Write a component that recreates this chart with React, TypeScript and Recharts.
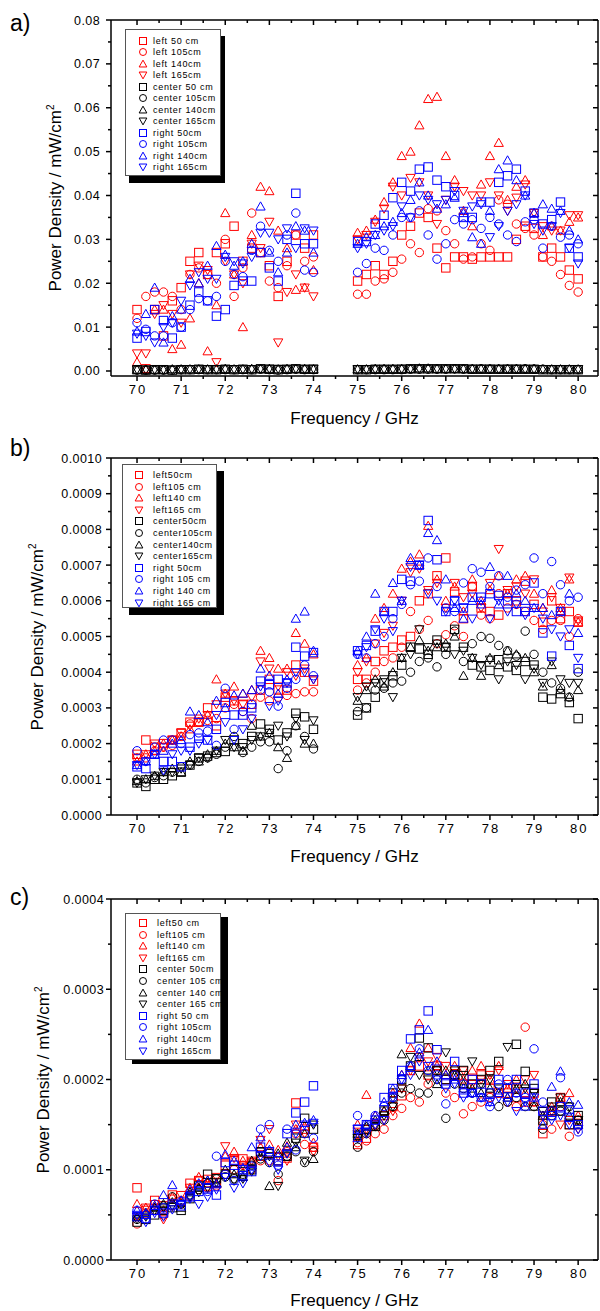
import React from "react"
import { ScatterChart, Scatter, XAxis, YAxis } from "recharts"

const RED = "#ff0000"
const BLACK = "#000000"
const BLUE = "#0000ff"
const FONT = '"Liberation Sans", Arial, sans-serif'

// measurement frequencies, GHz
const FREQ = [
  70.0, 70.2, 70.4, 70.6, 70.8, 71.0, 71.2, 71.4, 71.6, 71.8, 72.0, 72.2, 72.4, 72.6, 72.8, 73.0, 73.2, 73.4, 73.6, 73.8, 74.0,
  75.0, 75.2, 75.4, 75.6, 75.8, 76.0, 76.2, 76.4, 76.6, 76.8, 77.0, 77.2, 77.4, 77.6, 77.8, 78.0, 78.2, 78.4, 78.6, 78.8, 79.0,
  79.2, 79.4, 79.6, 79.8, 80.0,
]

const X_TICKS = [70, 70.5, 71, 71.5, 72, 72.5, 73, 73.5, 74, 74.5, 75, 75.5, 76, 76.5, 77, 77.5, 78, 78.5, 79, 79.5, 80]

// panel a) values in units of 0.001 mW/cm2
const A_LEFT_50 = [14, 0.5, 14, 8, 16, 19, 25, 27, 22, 27, 29, 33, 25, 28, 27, 24, 17, 25, 31, 28, 31, 20.5, 22, 24, 22, 25, 31, 33, 36, 35, 28, 23.5, 26, 26, 25.5, 26, 26, 26, 26, 30, 33, 32.5, 26, 28, 26, 23, 21]
const A_LEFT_105 = [12, 17, 18, 18, 17, 14, 22, 23.5, 22, 20, 30, 17, 23.5, 36, 27, 20.5, 19, 24, 31, 25, 26, 17.5, 17.5, 20.5, 21, 22.5, 25.5, 29, 27, 37, 36.5, 32, 29, 25.5, 26, 29, 27.5, 39, 38, 33.5, 32.5, 31, 26, 25, 22, 19.5, 18]
const A_LEFT_140 = [2, 0.5, 14, 14, 5, 6, 12, 20, 4.5, 15, 36, 22, 10, 31, 42, 41, 32, 28, 18.5, 19, 23, 31.5, 32, 34.5, 38.5, 43, 49, 50, 56, 62, 62.5, 49, 43.5, 36.5, 33, 42.5, 49, 52, 39, 42, 43.5, 36, 31, 33, 32, 34, 35]
const A_LEFT_165 = [4, 4, 13, 15, 13, 11, 22, 24, 23, 2, 25, 22, 20, 29, 28, 34, 6.5, 18, 22, 19, 17, 30, 31, 34, 37, 42, 40, 44, 43, 40, 33.5, 39, 42, 41, 40, 40, 43, 40, 36.5, 39.5, 42.5, 36, 33, 32, 32, 35.5, 35.5]
const A_CENTER_50 = [0.3, 0.2, 0.3, 0.3, 0.2, 0.3, 0.3, 0.4, 0.3, 0.3, 0.4, 0.3, 0.4, 0.3, 0.5, 0.4, 0.3, 0.4, 0.5, 0.4, 0.4, 0.3, 0.3, 0.4, 0.4, 0.4, 0.4, 0.5, 0.5, 0.5, 0.5, 0.5, 0.5, 0.5, 0.4, 0.4, 0.4, 0.4, 0.4, 0.4, 0.4, 0.4, 0.3, 0.3, 0.3, 0.3, 0.3]
const A_CENTER_105 = [0.2, 0.2, 0.2, 0.2, 0.2, 0.3, 0.3, 0.3, 0.3, 0.3, 0.3, 0.3, 0.3, 0.3, 0.4, 0.3, 0.2, 0.3, 0.4, 0.3, 0.3, 0.3, 0.3, 0.3, 0.3, 0.3, 0.3, 0.4, 0.4, 0.4, 0.4, 0.4, 0.5, 0.4, 0.4, 0.5, 0.4, 0.4, 0.4, 0.4, 0.5, 0.4, 0.4, 0.3, 0.3, 0.3, 0.3]
const A_CENTER_140 = [0.3, 0.3, 0.3, 0.3, 0.4, 0.4, 0.4, 0.4, 0.4, 0.4, 0.5, 0.4, 0.4, 0.5, 0.5, 0.5, 0.4, 0.5, 0.5, 0.5, 0.4, 0.4, 0.4, 0.5, 0.5, 0.5, 0.5, 0.5, 0.6, 0.6, 0.5, 0.5, 0.5, 0.5, 0.5, 0.5, 0.5, 0.5, 0.5, 0.5, 0.5, 0.5, 0.4, 0.4, 0.4, 0.4, 0.4]
const A_CENTER_165 = [0.3, 0.3, 0.3, 0.3, 0.3, 0.3, 0.4, 0.4, 0.4, 0.4, 0.4, 0.4, 0.4, 0.4, 0.5, 0.5, 0.5, 0.4, 0.5, 0.4, 0.5, 0.4, 0.4, 0.4, 0.4, 0.4, 0.5, 0.5, 0.5, 0.5, 0.5, 0.5, 0.5, 0.5, 0.5, 0.5, 0.5, 0.4, 0.5, 0.5, 0.4, 0.4, 0.4, 0.4, 0.4, 0.4, 0.4]
const A_RIGHT_50 = [7.5, 9, 14, 11.5, 7.5, 10, 15, 18, 16, 12.5, 14, 19.5, 20.5, 20.5, 27, 23.5, 20.5, 30, 40.5, 29, 29, 29.5, 29.5, 33.5, 35.5, 39.5, 43, 41, 46, 46.5, 43.5, 42, 40, 35, 35, 38.5, 38.5, 43, 44.5, 46, 41, 36, 33.5, 34.5, 38.5, 28, 26]
const A_RIGHT_105 = [11, 9.5, 8, 8, 11, 10, 14, 16.5, 16, 17, 25, 22, 21.5, 27.5, 33, 27.5, 25, 31, 36, 23, 22.5, 22.5, 24.5, 28, 27.5, 31, 35, 35, 36.5, 31, 25.5, 29, 34.5, 33.5, 34.5, 32.5, 35, 33.5, 31, 29.5, 34, 34.5, 28, 33, 30.5, 31, 29]
const A_RIGHT_140 = [9, 13, 19, 6.5, 12.5, 14, 21, 20, 24, 28.5, 26.5, 24, 25, 29, 37.5, 27, 22.5, 27, 33, 32, 27, 29, 30.5, 31, 33, 34, 36, 39, 43, 40, 37, 38, 39.5, 36, 30.5, 29, 36.5, 46, 48, 43.5, 40, 36, 38, 37, 36.5, 32, 30]
const A_RIGHT_165 = [8.5, 8, 6.5, 10, 11, 16, 19.5, 22.5, 21, 21, 26, 25, 24.5, 26, 31.5, 31.5, 30, 32.5, 28, 32.5, 32, 28, 29, 31, 32, 33, 37.5, 35, 40, 39, 38, 39, 41, 36.5, 37.5, 38, 30.5, 33, 36.5, 38, 40, 33.5, 32, 33, 36, 28, 24.5]

// panel b) values in units of 0.00001 mW/cm2
const B_LEFT_50 = [17, 21, 19, 20, 21, 23, 26, 26, 30, 25, 33, 32, 31, 31, 35, 38, 35, 35, 42, 40, 37.5, 38, 38, 43, 46, 47, 49, 50, 60, 62, 67, 72, 62.5, 55, 64, 58, 57, 56, 62, 60, 65.5, 59, 54, 60, 55, 57, 54]
const B_LEFT_105 = [16, 16, 18, 19, 19.5, 22, 25.5, 26, 26.5, 27, 30, 31, 29, 27, 33, 32, 33, 33.5, 34, 34.5, 34.5, 35, 37, 40, 43, 44, 47, 57, 52, 54.5, 48, 50.5, 53, 50, 64, 56, 55, 62, 58, 59, 57, 54.5, 52, 54.5, 54.5, 50, 55]
const B_LEFT_140 = [15, 17, 18, 20, 21, 22, 24, 26, 28, 38, 34, 36, 34, 35, 46, 44, 41, 41, 51, 48, 45, 42, 44, 55, 58, 62, 69, 71, 73, 81, 66, 60, 64, 57, 66, 60, 63, 67, 62, 66, 67, 62, 58, 63, 58, 66, 54]
const B_LEFT_165 = [16, 17, 20, 19, 21, 23, 25, 27, 28, 31, 34, 32, 31, 33, 43, 41, 36, 40, 39, 41, 38, 40, 43, 48, 51, 53, 60, 68, 69, 63, 65, 58, 65, 61, 62, 58, 65, 74.5, 63, 64, 62, 66, 57, 61, 58, 66.5, 54.5]
const B_CENTER_50 = [9, 8, 10, 10, 11, 12, 14, 16, 16.5, 17.5, 17.8, 21, 20, 22, 25.5, 24, 21, 23, 28.5, 27.5, 24, 28, 30, 33, 37, 39, 42, 47, 46.5, 45, 49, 47, 52, 47, 42, 41.5, 40.5, 43.5, 41.5, 40.5, 43, 42, 33, 32.5, 34, 31.5, 27]
const B_CENTER_105 = [10, 9, 10.5, 11, 12, 13.5, 14, 15, 16, 17, 19, 22, 17.5, 19, 20.5, 20.5, 13, 18, 25, 22, 18.5, 29, 30, 35, 35.5, 37, 37.5, 40, 43, 44, 41.5, 45, 51.5, 43, 48, 50, 49.5, 47.5, 46, 44.5, 51.5, 45, 40, 37, 35.5, 33, 40]
const B_CENTER_140 = [9.5, 10, 11, 12, 13, 12, 15, 15, 17, 18, 20, 19, 18, 25, 22, 23, 19, 16, 25, 20, 20, 32, 35, 38, 36, 40, 44, 47, 49, 46, 47, 48, 50, 39, 44, 39, 44, 42, 46, 45, 44, 40, 36, 42, 35, 33, 35]
const B_CENTER_165 = [9, 10, 11, 12, 12, 13, 14, 16, 16, 18, 21, 19, 19, 21, 22, 23, 25, 22, 27, 21, 26.5, 33, 36, 37, 38, 33, 44, 45, 52, 47, 48, 47, 45, 46, 44, 42, 43.5, 38, 43, 42, 38, 41, 37, 43, 38, 37, 37]
const B_RIGHT_50 = [13.5, 13, 17, 15, 15, 13.5, 19, 21.5, 21, 24, 31.5, 28, 28, 30, 37.5, 36.5, 38, 37, 47, 44.5, 45.5, 46, 47.5, 51.5, 57, 57, 66, 65.5, 70, 82.5, 71.5, 57, 60, 58, 61, 61, 62, 61.5, 60, 57, 57, 65, 51, 44.5, 57, 47.5, 41]
const B_RIGHT_105 = [18, 15, 19, 21, 21, 20, 22.5, 23, 23.5, 19.5, 35.5, 24, 29, 31, 35, 34.5, 30.5, 35.5, 38, 42, 39, 45, 44, 48, 50, 55, 59, 64.5, 65.5, 72, 64, 58, 57, 65, 69, 68, 64, 67, 61, 63, 64.5, 72, 62, 71, 64.5, 60, 61]
const B_RIGHT_140 = [14, 15, 17, 18, 20, 21, 29, 28, 26, 32, 30, 33.5, 34, 35, 41, 39, 34, 38, 55, 57, 46, 46, 50, 62, 57, 65, 60, 72, 70, 79, 77, 66, 58, 55, 60, 59, 69.5, 59, 67, 62, 60, 58, 58, 56, 57, 62, 51]
const B_RIGHT_165 = [14, 15, 17, 12.5, 17, 18, 18, 20, 21, 28, 26, 21, 24, 27, 36, 30.5, 32, 37, 40, 40, 38, 45, 47, 52, 55, 51.5, 60, 69.5, 70, 62, 60, 57, 60, 58, 55, 60, 55, 60, 57, 59, 56, 58, 55, 52, 50, 52, 44]

// panel c) values in units of 0.000001 mW/cm2
const C_LEFT_50 = [80, 55, 66, 60, 72, 65, 85, 88, 82, 86, 105, 110, 112, 108, 115, 118, 110, 113, 174, 145, 125, 128, 135, 150, 160, 170, 182, 210, 215, 205, 215, 200, 205, 195, 200, 205, 190, 185, 185, 180, 175, 185, 140, 165, 180, 150, 150]
const C_LEFT_105 = [40, 52, 55, 50, 60, 62, 70, 78, 80, 82, 95, 100, 105, 100, 110, 110, 88, 120, 140, 128, 125, 130, 132, 140, 145, 160, 168, 180, 175, 195, 210, 185, 180, 162, 170, 175, 180, 185, 175, 170, 258, 175, 150, 145, 170, 137, 155]
const C_LEFT_140 = [62, 58, 60, 55, 70, 66, 80, 92, 85, 84, 115, 120, 110, 108, 125, 128, 122, 126, 145, 148, 130, 150, 183, 160, 165, 185, 205, 235, 262, 235, 215, 205, 215, 200, 210, 215, 200, 215, 190, 200, 185, 175, 160, 170, 180, 185, 160]
const C_LEFT_165 = [48, 58, 62, 45, 68, 72, 80, 88, 90, 92, 126, 113, 105, 110, 133, 145, 115, 110, 150, 140, 120, 140, 145, 150, 155, 165, 190, 210, 225, 220, 225, 215, 205, 210, 195, 200, 205, 210, 195, 190, 200, 205, 160, 165, 150, 155, 145]
const C_CENTER_50 = [42, 45, 50, 55, 58, 55, 68, 82, 95, 90, 95, 100, 98, 100, 120, 118, 110, 115, 135, 157, 145, 138, 145, 148, 165, 185, 200, 215, 246, 235, 210, 200, 205, 210, 195, 200, 210, 220, 190, 239, 209, 190, 155, 175, 165, 150, 160]
const C_CENTER_105 = [45, 50, 55, 60, 70, 62, 72, 78, 85, 90, 92, 90, 95, 105, 112, 108, 95, 115, 120, 108, 120, 125, 140, 148, 155, 170, 185, 190, 185, 185, 200, 157, 195, 190, 185, 195, 185, 170, 175, 180, 170, 170, 145, 160, 165, 170, 155]
const C_CENTER_140 = [48, 52, 58, 62, 64, 58, 75, 80, 88, 85, 100, 95, 92, 110, 115, 82, 118, 130, 125, 140, 112, 140, 148, 155, 165, 180, 228, 215, 225, 210, 195, 210, 205, 195, 190, 185, 190, 185, 180, 190, 195, 170, 160, 165, 175, 160, 150]
const C_CENTER_165 = [45, 48, 55, 58, 60, 62, 70, 75, 80, 86, 92, 88, 90, 98, 120, 115, 82, 118, 130, 110, 150, 135, 142, 148, 160, 170, 190, 225, 205, 200, 210, 230, 210, 205, 220, 195, 200, 190, 236, 195, 190, 185, 165, 170, 180, 170, 155]
const C_RIGHT_50 = [48, 46, 55, 52, 62, 60, 70, 76, 80, 72, 108, 105, 100, 98, 125, 120, 110, 140, 163, 175, 193, 145, 150, 155, 180, 190, 210, 245, 255, 276, 233, 195, 220, 185, 200, 195, 185, 200, 190, 200, 185, 195, 165, 160, 170, 158, 150]
const C_RIGHT_105 = [55, 50, 62, 58, 60, 65, 72, 82, 76, 115, 95, 88, 92, 104, 145, 150, 105, 145, 122, 140, 135, 160, 150, 160, 170, 180, 200, 215, 234, 210, 205, 173, 205, 195, 185, 180, 170, 195, 200, 185, 180, 234, 175, 165, 202, 165, 142]
const C_RIGHT_140 = [55, 52, 60, 72, 83, 66, 78, 85, 88, 84, 117, 110, 102, 125, 136, 122, 115, 125, 150, 152, 155, 135, 150, 160, 175, 190, 205, 215, 230, 255, 220, 205, 200, 190, 185, 180, 175, 185, 180, 185, 170, 180, 150, 192, 209, 175, 172]
const C_RIGHT_165 = [50, 42, 52, 48, 56, 62, 68, 62, 70, 78, 92, 80, 85, 100, 115, 108, 100, 118, 140, 150, 152, 145, 140, 150, 155, 180, 200, 205, 220, 215, 200, 190, 195, 180, 185, 180, 175, 180, 175, 165, 175, 180, 160, 155, 160, 150, 145]

const Y_TICKS_A = [0, 0.005, 0.01, 0.015, 0.02, 0.025, 0.03, 0.035, 0.04, 0.045, 0.05, 0.055, 0.06, 0.065, 0.07, 0.075, 0.08]
const Y_TICKS_B = [0, 0.00005, 0.0001, 0.00015, 0.0002, 0.00025, 0.0003, 0.00035, 0.0004, 0.00045, 0.0005, 0.00055, 0.0006, 0.00065, 0.0007, 0.00075, 0.0008, 0.00085, 0.0009, 0.00095, 0.001]
const Y_TICKS_C = [0, 0.00005, 0.0001, 0.00015, 0.0002, 0.00025, 0.0003, 0.00035, 0.0004]

const A_NAMES = ["left 50 cm", "left 105cm", "left 140cm", "left 165cm", "center 50 cm", "center 105cm", "center 140cm", "center 165cm", "right 50cm", "right 105cm", "right 140cm", "right 165cm"]
const B_NAMES = ["left50cm", "left105 cm", "left140 cm", "left165 cm", "center50cm", "center105cm", "center140cm", "center165cm", "right 50cm", "right 105 cm", "right 140 cm", "right 165 cm"]
const C_NAMES = ["left50 cm", "left105 cm", "left140 cm", "left165 cm", "center 50cm", "center 105 cm", "center 140 cm", "center 165 cm", "right 50 cm", "right 105cm", "right 140cm", "right 165cm"]

type Kind = "square" | "circle" | "up" | "down"

const STYLES: { color: string; kind: Kind }[] = [
  { color: RED, kind: "square" },
  { color: RED, kind: "circle" },
  { color: RED, kind: "up" },
  { color: RED, kind: "down" },
  { color: BLACK, kind: "square" },
  { color: BLACK, kind: "circle" },
  { color: BLACK, kind: "up" },
  { color: BLACK, kind: "down" },
  { color: BLUE, kind: "square" },
  { color: BLUE, kind: "circle" },
  { color: BLUE, kind: "up" },
  { color: BLUE, kind: "down" },
]

const AXIS_W = 1.5

function Marker({ cx, cy, kind, color, s = 4.2 }: { cx?: number; cy?: number; kind: Kind; color: string; s?: number }) {
  if (cx == null || cy == null || isNaN(cx) || isNaN(cy)) return null
  const common = { fill: "none", stroke: color, strokeWidth: 1 }
  if (kind === "square") return <rect x={cx - s} y={cy - s} width={2 * s} height={2 * s} {...common} />
  if (kind === "circle") return <circle cx={cx} cy={cy} r={s} {...common} />
  const h = s * 1.1
  if (kind === "up")
    return <polygon points={`${cx},${cy - h} ${cx + h},${cy + s * 0.85} ${cx - h},${cy + s * 0.85}`} {...common} />
  return <polygon points={`${cx - h},${cy - s * 0.85} ${cx + h},${cy - s * 0.85} ${cx},${cy + h}`} {...common} />
}

const isMajor = (v: number, step: number) => Math.abs(v / step - Math.round(v / step)) < 1e-6

const textStyle = { fontFamily: FONT, fill: "#000" }

function makeBottomTick() {
  return (p: any) => {
    const v = p.payload.value
    const major = isMajor(v, 1)
    return (
      <g>
        <line x1={p.x} x2={p.x} y1={p.y} y2={p.y + (major ? 5 : 3)} stroke="#000" strokeWidth={AXIS_W} />
        {major && (
          <text x={p.x + 1} y={p.y + 18} textAnchor="middle" fontSize={13} letterSpacing={2} style={textStyle}>
            {v}
          </text>
        )}
      </g>
    )
  }
}

function makeTopTick() {
  return (p: any) => {
    const major = isMajor(p.payload.value, 1)
    return <line x1={p.x} x2={p.x} y1={p.y} y2={p.y + (major ? 5 : 3)} stroke="#000" strokeWidth={AXIS_W} />
  }
}

function makeLeftTick(step: number, decimals: number, gap: number) {
  return (p: any) => {
    const v = p.payload.value
    const major = isMajor(v, step)
    return (
      <g>
        <line x1={p.x - (major ? 5 : 3)} x2={p.x} y1={p.y} y2={p.y} stroke="#000" strokeWidth={AXIS_W} />
        {major && (
          <text x={p.x - gap} y={p.y + 4.5} textAnchor="end" fontSize={12.5} letterSpacing={0.4} style={textStyle}>
            {v.toFixed(decimals)}
          </text>
        )}
      </g>
    )
  }
}

function makeRightTick(step: number) {
  return (p: any) => {
    const major = isMajor(p.payload.value, step)
    return <line x1={p.x - (major ? 5 : 3)} x2={p.x} y1={p.y} y2={p.y} stroke="#000" strokeWidth={AXIS_W} />
  }
}

interface LegendBox {
  left: number
  top: number
  width: number
  height: number
  shadowX: number
  shadowY: number
  markerX: number
  textX: number
  firstRow: number
  rowGap: number
}

interface PanelProps {
  top: number
  height: number
  plotTop: number
  plotBottom: number
  yDomain: [number, number]
  yTicks: number[]
  yStep: number
  yDecimals: number
  yGap: number
  unit: number
  series: number[][]
  names: string[]
  label: string
  labelY: number
  yTitleX: number
  xTitleY: number
  legend: LegendBox
}

const X_AXIS_H = 30
const PLOT_LEFT = 111
const axisLine = { stroke: "#000", strokeWidth: AXIS_W }

function Panel(props: PanelProps) {
  const { top, height, plotTop, plotBottom, legend } = props
  const localTop = plotTop - top
  const localBottom = plotBottom - top
  const margin = { top: localTop - 1, right: 0, left: 0, bottom: height - localBottom - X_AXIS_H }
  return (
    <>
      <div style={{ position: "absolute", left: 0, top }}>
        <ScatterChart width={600} height={height} margin={margin}>
          <XAxis
            dataKey="x"
            type="number"
            domain={[69.41, 80.45]}
            allowDataOverflow
            ticks={X_TICKS}
            interval={0}
            height={X_AXIS_H}
            tickSize={0}
            tickMargin={0}
            tickLine={false}
            axisLine={axisLine}
            tick={makeBottomTick()}
          />
          <XAxis
            xAxisId="top"
            orientation="top"
            dataKey="x"
            type="number"
            domain={[69.41, 80.45]}
            allowDataOverflow
            ticks={X_TICKS}
            interval={0}
            height={1}
            tickSize={0}
            tickMargin={0}
            tickLine={false}
            axisLine={axisLine}
            tick={makeTopTick()}
          />
          <YAxis
            dataKey="y"
            type="number"
            domain={props.yDomain}
            allowDataOverflow
            ticks={props.yTicks}
            interval={0}
            width={PLOT_LEFT}
            tickSize={0}
            tickMargin={0}
            tickLine={false}
            axisLine={axisLine}
            tick={makeLeftTick(props.yStep, props.yDecimals, props.yGap)}
          />
          <YAxis
            yAxisId="right"
            orientation="right"
            dataKey="y"
            type="number"
            domain={props.yDomain}
            allowDataOverflow
            ticks={props.yTicks}
            interval={0}
            width={2}
            tickSize={0}
            tickMargin={0}
            tickLine={false}
            axisLine={axisLine}
            tick={makeRightTick(props.yStep)}
          />
          {props.series.map((vals, i) => {
            const st = STYLES[i]
            const data = FREQ.map((f, j) => ({ x: f, y: vals[j] * props.unit })).filter((d) => !isNaN(d.y))
            return (
              <Scatter
                key={i}
                name={props.names[i]}
                data={data}
                isAnimationActive={false}
                shape={(p: any) => <Marker cx={p.cx} cy={p.cy} kind={st.kind} color={st.color} />}
              />
            )
          })}
        </ScatterChart>
      </div>

      <div
        style={{
          position: "absolute",
          left: legend.left,
          top: legend.top,
          width: legend.width,
          height: legend.height,
          boxSizing: "border-box",
          border: "1px solid #555",
          background: "#fff",
          boxShadow: `${legend.shadowX}px ${legend.shadowY}px 0 0 #000`,
        }}
      >
        {props.names.map((n, i) => {
          const rowY = legend.firstRow - legend.top + i * legend.rowGap
          const st = STYLES[i]
          return (
            <React.Fragment key={n}>
              <svg
                width={12}
                height={12}
                style={{ position: "absolute", left: legend.markerX - legend.left - 6, top: rowY - 6 }}
              >
                <Marker cx={6} cy={6} kind={st.kind} color={st.color} s={3.5} />
              </svg>
              <div
                style={{
                  position: "absolute",
                  left: legend.textX - legend.left,
                  top: rowY - 6,
                  height: 12,
                  lineHeight: "12px",
                  fontFamily: FONT,
                  fontSize: 9,
                  letterSpacing: 0.7,
                  whiteSpace: "nowrap",
                  color: "#000",
                }}
              >
                {n}
              </div>
            </React.Fragment>
          )
        })}
      </div>

      <div
        style={{
          position: "absolute",
          left: 10,
          top: props.labelY,
          transform: "translateY(-50%)",
          fontFamily: FONT,
          fontSize: 23,
          lineHeight: 1,
        }}
      >
        {props.label}
      </div>

      <div
        style={{
          position: "absolute",
          left: props.yTitleX,
          top: (plotTop + plotBottom) / 2,
          transform: "translate(-50%, -50%) rotate(-90deg)",
          fontFamily: FONT,
          fontSize: 17,
          whiteSpace: "nowrap",
          lineHeight: 1,
        }}
      >
        Power Density / mW/cm<sup style={{ fontSize: 10 }}>2</sup>
      </div>

      <div
        style={{
          position: "absolute",
          left: (PLOT_LEFT + 598) / 2,
          top: props.xTitleY,
          transform: "translate(-50%, -50%)",
          fontFamily: FONT,
          fontSize: 17,
          whiteSpace: "nowrap",
          lineHeight: 1,
        }}
      >
        Frequency / GHz
      </div>
    </>
  )
}

export default function App() {
  return (
    <div style={{ position: "absolute", left: 0, top: 0, width: 600, height: 1311, background: "#fff", overflow: "hidden" }}>
      <Panel
        top={0}
        height={440}
        plotTop={20}
        plotBottom={376}
        yDomain={[-0.00114, 0.08]}
        yTicks={Y_TICKS_A}
        yStep={0.01}
        yDecimals={2}
        yGap={11}
        unit={0.001}
        series={[A_LEFT_50, A_LEFT_105, A_LEFT_140, A_LEFT_165, A_CENTER_50, A_CENTER_105, A_CENTER_140, A_CENTER_165, A_RIGHT_50, A_RIGHT_105, A_RIGHT_140, A_RIGHT_165]}
        names={A_NAMES}
        label="a)"
        labelY={23}
        yTitleX={55}
        xTitleY={418}
        legend={{ left: 125, top: 29, width: 96, height: 147, shadowX: 4, shadowY: 7, markerX: 142, textX: 152, firstRow: 40, rowGap: 11.45 }}
      />
      <Panel
        top={440}
        height={440}
        plotTop={458}
        plotBottom={815}
        yDomain={[0, 0.001]}
        yTicks={Y_TICKS_B}
        yStep={0.0001}
        yDecimals={4}
        yGap={9}
        unit={0.00001}
        series={[B_LEFT_50, B_LEFT_105, B_LEFT_140, B_LEFT_165, B_CENTER_50, B_CENTER_105, B_CENTER_140, B_CENTER_165, B_RIGHT_50, B_RIGHT_105, B_RIGHT_140, B_RIGHT_165]}
        names={B_NAMES}
        label="b)"
        labelY={448}
        yTitleX={37}
        xTitleY={856}
        legend={{ left: 122, top: 464, width: 95, height: 144, shadowX: 7, shadowY: 7, markerX: 138, textX: 152, firstRow: 474, rowGap: 11.6 }}
      />
      <Panel
        top={880}
        height={431}
        plotTop={899}
        plotBottom={1260}
        yDomain={[0, 0.0004]}
        yTicks={Y_TICKS_C}
        yStep={0.0001}
        yDecimals={4}
        yGap={7}
        unit={0.000001}
        series={[C_LEFT_50, C_LEFT_105, C_LEFT_140, C_LEFT_165, C_CENTER_50, C_CENTER_105, C_CENTER_140, C_CENTER_165, C_RIGHT_50, C_RIGHT_105, C_RIGHT_140, C_RIGHT_165]}
        names={C_NAMES}
        label="c)"
        labelY={897}
        yTitleX={43}
        xTitleY={1300}
        legend={{ left: 125, top: 913, width: 96, height: 147, shadowX: 7, shadowY: 4, markerX: 142, textX: 156, firstRow: 922, rowGap: 11.6 }}
      />
    </div>
  )
}
